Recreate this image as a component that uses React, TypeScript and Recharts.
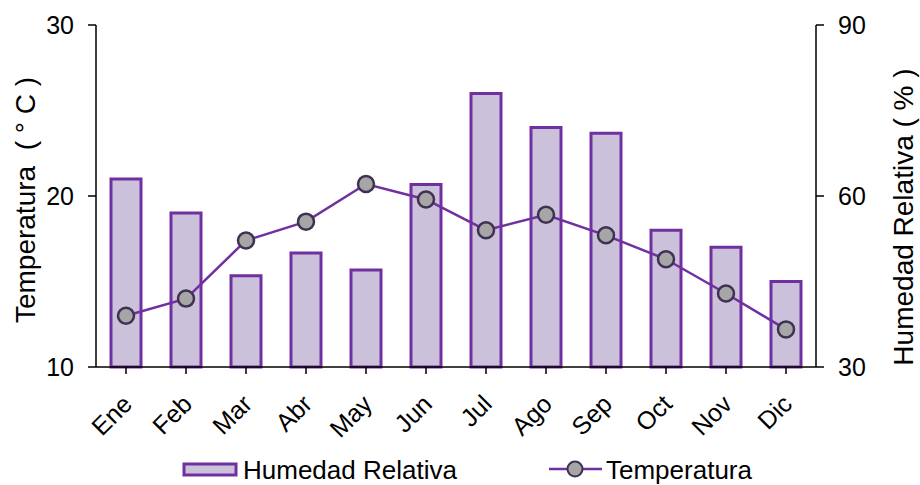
import { Bar, ComposedChart, Line, XAxis, YAxis } from "recharts";

const months = ["Ene", "Feb", "Mar", "Abr", "May", "Jun", "Jul", "Ago", "Sep", "Oct", "Nov", "Dic"];
const humedad = [63, 57, 46, 50, 47, 62, 78, 72, 71, 54, 51, 45];
const temperatura = [13.0, 14.0, 17.4, 18.5, 20.7, 19.8, 18.0, 18.9, 17.7, 16.3, 14.3, 12.2];
const tempTicks = [10, 20, 30];
const humTicks = [30, 60, 90];

const data = months.map((m, i) => ({ mes: m, hum: humedad[i], temp: temperatura[i] }));

const PURPLE = "#7030A0";
const FONT = "'Liberation Sans', Arial, sans-serif";

function MonthTick(props: any) {
  const { x, y, payload } = props;
  return (
    <g transform={`translate(${x - 5},${y + 17})`}>
      <text
        textAnchor="end"
        transform="rotate(-45)"
        fontSize={25}
        fontFamily={FONT}
        fill="#000"
        dy="0.71em"
      >
        {payload.value}
      </text>
    </g>
  );
}

const LeftTitle = () => (
  <text
    x={25}
    y={200}
    transform="rotate(-90, 25, 200)"
    textAnchor="middle"
    dominantBaseline="central"
    fontSize={28}
    fontFamily={FONT}
    fill="#000"
    style={{ whiteSpace: "pre" }}
  >
    {"Temperatura  ( ° C )"}
  </text>
);

const RightTitle = () => (
  <text
    x={903}
    y={217}
    transform="rotate(-90, 903, 217)"
    textAnchor="middle"
    dominantBaseline="central"
    fontSize={28}
    fontFamily={FONT}
    fill="#000"
    style={{ whiteSpace: "pre" }}
  >
    {"Humedad Relativa ( % )"}
  </text>
);

function LegendRow() {
  return (
    <svg width={920} height={40} style={{ position: "absolute", left: 0, top: 445 }}>
      <rect x={184} y={19} width={52} height={11} fill="#CCC1DA" stroke={PURPLE} strokeWidth={3} />
      <text x={243} y={34} fontSize={26} fontFamily={FONT} fill="#000">Humedad Relativa</text>
      <line x1={549} x2={602} y1={24} y2={24} stroke={PURPLE} strokeWidth={2.5} />
      <circle cx={575} cy={24} r={7.5} fill="#A6A6A6" stroke="#3F3151" strokeWidth={2} />
      <text x={606} y={34} fontSize={26} fontFamily={FONT} fill="#000">Temperatura</text>
    </svg>
  );
}

export default function App() {
  return (
    <div style={{ position: "absolute", left: 0, top: 0, width: 920, height: 485, background: "#fff" }}>
      <ComposedChart
        width={920}
        height={485}
        data={data}
        margin={{ top: 25, right: 0, bottom: 58, left: 0 }}
      >
        <XAxis
          dataKey="mes"
          xAxisId="x"
          height={60}
          tick={<MonthTick />}
          tickSize={7}
          axisLine={{ stroke: "#000", strokeWidth: 1.5 }}
          tickLine={{ stroke: "#000", strokeWidth: 1.5 }}
          interval={0}
        />
        <YAxis
          yAxisId="temp"
          orientation="left"
          width={96}
          domain={[10, 30]}
          ticks={tempTicks}
          tickSize={8}
          tickMargin={14}
          axisLine={{ stroke: "#000", strokeWidth: 1.5 }}
          tickLine={{ stroke: "#000", strokeWidth: 1.5 }}
          tick={{ fontSize: 25, fill: "#000", fontFamily: FONT }}
          label={{ content: LeftTitle }}
        />
        <YAxis
          yAxisId="hum"
          orientation="right"
          width={104}
          domain={[30, 90]}
          ticks={humTicks}
          tickSize={8}
          tickMargin={14}
          axisLine={{ stroke: "#000", strokeWidth: 1.5 }}
          tickLine={{ stroke: "#000", strokeWidth: 1.5 }}
          tick={{ fontSize: 25, fill: "#000", fontFamily: FONT }}
          label={{ content: RightTitle }}
        />
        <Bar
          dataKey="hum"
          xAxisId="x"
          yAxisId="hum"
          barSize={30}
          fill="#CCC1DA"
          stroke={PURPLE}
          strokeWidth={3}
          isAnimationActive={false}
        />
        <Line
          dataKey="temp"
          xAxisId="x"
          yAxisId="temp"
          stroke={PURPLE}
          strokeWidth={2.5}
          dot={{ r: 8, fill: "#A6A6A6", stroke: "#3F3151", strokeWidth: 2.5 }}
          activeDot={false}
          isAnimationActive={false}
        />
      </ComposedChart>
      <LegendRow />
    </div>
  );
}
